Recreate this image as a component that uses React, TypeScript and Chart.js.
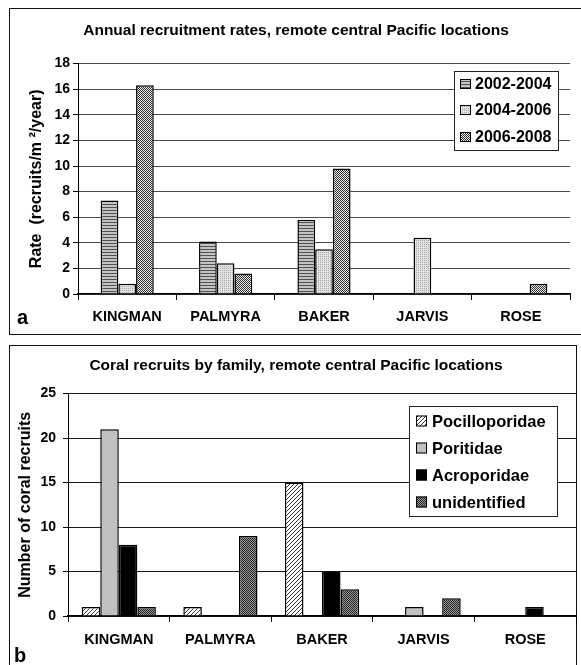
import React, { useEffect, useRef } from "react";
import { Chart, registerables } from "chart.js";

Chart.register(...registerables);

const FONT = "'Liberation Sans', Arial, Helvetica, sans-serif";

// ---------- data ----------
const categories = ["KINGMAN", "PALMYRA", "BAKER", "JARVIS", "ROSE"];

const rateSeriesLabels = ["2002-2004", "2004-2006", "2006-2008"];
const rate2002to2004 = [7.3, 4.1, 5.8, 0, 0];
const rate2004to2006 = [0.8, 2.4, 3.5, 4.4, 0];
const rate2006to2008 = [16.3, 1.6, 9.8, 0, 0.8];
const rateMax = 18;
const rateStep = 2;

const familyLabels = ["Pocilloporidae", "Poritidae", "Acroporidae", "unidentified"];
const pocilloporidae = [1, 1, 15, 0, 0];
const poritidae = [21, 0, 0, 1, 0];
const acroporidae = [8, 0, 5, 0, 1];
const unidentified = [1, 9, 3, 2, 0];
const countMax = 25;
const countStep = 5;

const titleA = "Annual recruitment rates, remote central Pacific locations";
const yTitleA = "Rate  (recruits/m \u00B2/year)";
const titleB = "Coral recruits by family, remote central Pacific locations";
const yTitleB = "Number of coral recruits";

// ---------- patterns ----------
function makePattern(w: number, h: number, draw: (c: CanvasRenderingContext2D) => void) {
  const cv = document.createElement("canvas");
  cv.width = w;
  cv.height = h;
  const c = cv.getContext("2d") as CanvasRenderingContext2D;
  draw(c);
  return c.createPattern(cv, "repeat") as CanvasPattern;
}

function px(c: CanvasRenderingContext2D, x: number, y: number, col: string) {
  c.fillStyle = col;
  c.fillRect(x, y, 1, 1);
}

function buildPatterns() {
  const hStripes = makePattern(3, 3, (c) => {
    c.fillStyle = "#c4c4c4";
    c.fillRect(0, 0, 3, 3);
    c.fillStyle = "#505050";
    c.fillRect(0, 0, 3, 1);
  });
  const lightDots = makePattern(2, 2, (c) => {
    c.fillStyle = "#e2e2e2";
    c.fillRect(0, 0, 2, 2);
    px(c, 0, 0, "#a8a8a8");
  });
  const checker = makePattern(2, 2, (c) => {
    c.fillStyle = "#eeeeee";
    c.fillRect(0, 0, 2, 2);
    px(c, 0, 0, "#2e2e2e");
    px(c, 1, 1, "#2e2e2e");
  });
  const diag = makePattern(4, 4, (c) => {
    c.fillStyle = "#ffffff";
    c.fillRect(0, 0, 4, 4);
    px(c, 0, 3, "#333333");
    px(c, 1, 2, "#333333");
    px(c, 2, 1, "#333333");
    px(c, 3, 0, "#333333");
  });
  const darkChecker = makePattern(2, 2, (c) => {
    c.fillStyle = "#9a9a9a";
    c.fillRect(0, 0, 2, 2);
    px(c, 0, 0, "#222222");
    px(c, 1, 1, "#222222");
  });
  return { hStripes, lightDots, checker, diag, darkChecker };
}

// ---------- legend plugin ----------
const boxLegend = {
  id: "boxLegend",
  afterDatasetsDraw(chart: any, _args: any, opts: any) {
    const ctx: CanvasRenderingContext2D = chart.ctx;
    ctx.save();
    ctx.fillStyle = "#ffffff";
    ctx.fillRect(opts.x, opts.y, opts.w, opts.h);
    ctx.strokeStyle = "#222";
    ctx.lineWidth = 1;
    ctx.strokeRect(opts.x + 0.5, opts.y + 0.5, opts.w, opts.h);
    ctx.font = `bold ${opts.fontSize}px ${FONT}`;
    ctx.textBaseline = "middle";
    ctx.textAlign = "left";
    chart.data.datasets.forEach((ds: any, i: number) => {
      const cy = opts.itemY[i];
      ctx.fillStyle = ds.backgroundColor;
      ctx.fillRect(opts.sqX, cy - opts.sqH / 2, opts.sqW, opts.sqH);
      ctx.strokeStyle = "#000";
      ctx.strokeRect(opts.sqX + 0.5, cy - opts.sqH / 2 + 0.5, opts.sqW - 1, opts.sqH - 1);
      ctx.fillStyle = "#000";
      ctx.fillText(ds.label, opts.textX, cy + 1);
    });
    ctx.restore();
  },
};

function baseOptions(cfg: any) {
  return {
    responsive: false,
    animation: false,
    events: [],
    layout: { padding: { left: cfg.padLeft, right: cfg.padRight, top: 0, bottom: 0 } },
    plugins: {
      legend: { display: false },
      tooltip: { enabled: false },
      title: {
        display: true,
        text: cfg.title,
        color: "#000",
        font: { family: FONT, size: 15.5, weight: "bold" },
        padding: { top: cfg.titleTop, bottom: cfg.titleBottom },
      },
      boxLegend: cfg.legend,
    },
    scales: {
      x: {
        afterFit: (s: any) => {
          s.height = cfg.xHeight;
        },
        grid: {
          display: true,
          drawOnChartArea: false,
          drawTicks: true,
          tickLength: 6,
          offset: true,
          tickColor: "#000",
          color: "#000",
        },
        border: { display: true, color: "#000", width: 1.5 },
        ticks: {
          color: "#000",
          padding: cfg.xPad,
          maxRotation: 0,
          font: { family: FONT, size: 14.5, weight: "bold" },
        },
      },
      y: {
        min: 0,
        max: cfg.yMax,
        afterFit: (s: any) => {
          s.width = cfg.yWidth;
        },
        ticks: {
          stepSize: cfg.yStep,
          color: "#000",
          padding: cfg.yPad,
          font: { family: FONT, size: 14, weight: "bold" },
        },
        grid: {
          color: cfg.gridColor,
          lineWidth: 1,
          tickLength: 5,
          tickColor: "#000",
        },
        border: { display: true, color: "#000", width: 1 },
        title: {
          display: true,
          text: cfg.yTitle,
          color: "#000",
          font: { family: FONT, size: 16, weight: "bold" },
          padding: { top: cfg.yTitlePad, bottom: 0 },
        },
      },
    },
  };
}

function ChartA() {
  const ref = useRef<HTMLCanvasElement | null>(null);
  useEffect(() => {
    if (!ref.current) return;
    const p = buildPatterns();
    const chart = new Chart(ref.current, {
      type: "bar",
      data: {
        labels: categories,
        datasets: [
          { label: rateSeriesLabels[0], data: rate2002to2004, backgroundColor: p.hStripes },
          { label: rateSeriesLabels[1], data: rate2004to2006, backgroundColor: p.lightDots },
          { label: rateSeriesLabels[2], data: rate2006to2008, backgroundColor: p.checker },
        ].map((d) => ({
          ...d,
          borderColor: "#000",
          borderWidth: 1.5,
          categoryPercentage: 0.54,
          barPercentage: 1,
        })),
      },
      options: baseOptions({
        title: titleA,
        titleTop: 21,
        titleBottom: 24,
        padLeft: 22,
        padRight: 11,
        xHeight: 41,
        xPad: 8,
        yMax: rateMax,
        yStep: rateStep,
        yWidth: 56,
        yPad: 3,
        gridColor: "#4a4a4a",
        yTitle: yTitleA,
        yTitlePad: 5.4,
        legend: {
          x: 454,
          y: 71,
          w: 104,
          h: 79,
          sqX: 460,
          sqW: 11,
          sqH: 10,
          textX: 475,
          fontSize: 16,
          itemY: [84, 110, 137],
        },
      }) as any,
      plugins: [boxLegend],
    });
    return () => chart.destroy();
  }, []);
  return (
    <canvas
      ref={ref}
      width={581}
      height={335}
      style={{ position: "absolute", left: 0, top: 0, width: 581, height: 335 }}
    />
  );
}

function ChartB() {
  const ref = useRef<HTMLCanvasElement | null>(null);
  useEffect(() => {
    if (!ref.current) return;
    const p = buildPatterns();
    const chart = new Chart(ref.current, {
      type: "bar",
      data: {
        labels: categories,
        datasets: [
          { label: familyLabels[0], data: pocilloporidae, backgroundColor: p.diag },
          { label: familyLabels[1], data: poritidae, backgroundColor: "#c0c0c0" },
          { label: familyLabels[2], data: acroporidae, backgroundColor: "#000000" },
          { label: familyLabels[3], data: unidentified, backgroundColor: p.darkChecker },
        ].map((d) => ({
          ...d,
          borderColor: "#000",
          borderWidth: 1.5,
          categoryPercentage: 0.73,
          barPercentage: 1,
        })),
      },
      options: baseOptions({
        title: titleB,
        titleTop: 10,
        titleBottom: 19,
        padLeft: 16,
        padRight: 5,
        xHeight: 49,
        xPad: 9,
        yMax: countMax,
        yStep: countStep,
        yWidth: 52,
        yPad: 7,
        gridColor: "#1a1a1a",
        yTitle: yTitleB,
        yTitlePad: 0.4,
        legend: {
          x: 409,
          y: 60,
          w: 148,
          h: 110,
          sqX: 416,
          sqW: 11,
          sqH: 11,
          textX: 432,
          fontSize: 16.5,
          itemY: [75, 102, 129, 156],
        },
      }) as any,
      plugins: [boxLegend],
    });
    return () => chart.destroy();
  }, []);
  return (
    <canvas
      ref={ref}
      width={581}
      height={319}
      style={{ position: "absolute", left: 0, top: 346, width: 581, height: 319 }}
    />
  );
}

export default function App() {
  const letter: React.CSSProperties = {
    position: "absolute",
    fontFamily: FONT,
    fontWeight: "bold",
    fontSize: 20,
    lineHeight: "23px",
    color: "#000",
  };
  return (
    <div
      style={{
        position: "fixed",
        left: 0,
        top: 0,
        width: 581,
        height: 665,
        overflow: "hidden",
        background: "#fff",
      }}
    >
      <div
        style={{
          position: "absolute",
          left: 9,
          top: 8,
          width: 620,
          height: 327,
          border: "1.5px solid #111",
          boxSizing: "border-box",
        }}
      />
      <div
        style={{
          position: "absolute",
          left: 9,
          top: 345,
          width: 568,
          height: 400,
          border: "1.5px solid #111",
          boxSizing: "border-box",
        }}
      />
      <ChartA />
      <ChartB />
      <span style={{ ...letter, left: 17, top: 306 }}>a</span>
      <span style={{ ...letter, left: 14, top: 644 }}>b</span>
    </div>
  );
}
